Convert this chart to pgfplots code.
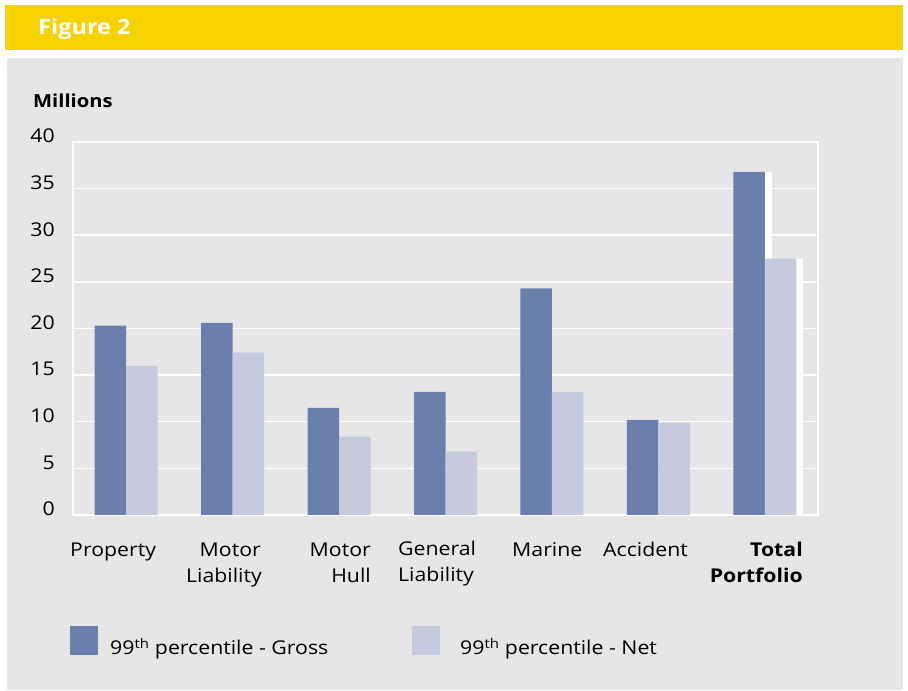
\documentclass[border=0pt]{standalone}
\usepackage{fontspec}
\setmainfont[FakeStretch=1.12]{Open Sans}
\usepackage{pgfplots}
\pgfplotsset{compat=1.18}
\definecolor{gross}{HTML}{6B7FAD}
\definecolor{net}{HTML}{C5CADD}
\definecolor{panel}{HTML}{E6E6E6}
\definecolor{yell}{HTML}{F5D200}
\begin{document}
\fontsize{19}{23}\selectfont
\begin{tikzpicture}
\path[use as bounding box] (0,0) rectangle (908pt,691pt);
\fill[white] (0,0) rectangle (908pt,691pt);
\fill[yell] (5pt,641pt) rectangle (903pt,686pt);
\fill[panel] (7pt,1pt) rectangle (903pt,633pt);
\node[anchor=west,text=white,inner sep=0pt,font=\fontsize{21}{25}\selectfont\bfseries] at (38pt,662pt) {Figure 2};
\node[anchor=base west,inner sep=0pt,font=\fontsize{18}{21}\selectfont\bfseries] at (33pt,583pt) {Millions};
\begin{axis}[at={(73pt,176pt)}, anchor=south west, scale only axis,
  width=745pt, height=373pt,
  xmin=-0.5, xmax=6.5, ymin=0, ymax=40,
  axis background/.style={fill=panel},
  axis line style={white, line width=1.5pt},
  ytick={0,5,...,40}, xtick=\empty,
  ymajorgrids, grid style={white, line width=1.5pt},
  major tick length=0pt,
  yticklabel style={font=\fontsize{19}{23}\selectfont, inner sep=0pt, anchor=east, xshift=-18pt, yshift=6pt,
    /pgf/number format/assume math mode=true},
  every axis plot/.append style={draw=none},
]
% white shadows behind Total Portfolio bars
\addplot[ybar, bar width=31.5pt, bar shift=-8.75pt, fill=white] coordinates {(6,36.8)};
\addplot[ybar, bar width=31.5pt, bar shift=22.75pt, fill=white] coordinates {(6,27.5)};
% 99th percentile - Gross
\addplot[ybar, bar width=31.5pt, bar shift=-15.75pt, fill=gross] coordinates {
(0,20.3) (1,20.6) (2,11.5) (3,13.2) (4,24.3) (5,10.2) (6,36.8)};
% 99th percentile - Net
\addplot[ybar, bar width=31.5pt, bar shift=15.75pt, fill=net] coordinates {
(0,16.0) (1,17.4) (2,8.4) (3,6.8) (4,13.2) (5,9.9) (6,27.5)};
\end{axis}
% category labels
\node[anchor=base west,inner sep=0pt] at (70pt,134pt) {Property};
\node[anchor=base east,inner sep=0pt] at (261pt,134pt) {Motor};
\node[anchor=base east,inner sep=0pt] at (262pt,108pt) {Liability};
\node[anchor=base east,inner sep=0pt] at (371pt,134pt) {Motor};
\node[anchor=base east,inner sep=0pt] at (371pt,108pt) {Hull};
\node[anchor=base west,inner sep=0pt] at (398pt,135pt) {General};
\node[anchor=base west,inner sep=0pt] at (398pt,109pt) {Liability};
\node[anchor=base west,inner sep=0pt] at (512pt,134pt) {Marine};
\node[anchor=base west,inner sep=0pt] at (603pt,134pt) {Accident};
\node[anchor=base east,inner sep=0pt,font=\bfseries] at (803pt,134pt) {Total};
\node[anchor=base east,inner sep=0pt,font=\bfseries] at (803pt,108pt) {Portfolio};
% legend
\fill[gross] (70pt,36pt) rectangle (98pt,65pt);
\node[anchor=base west,inner sep=0pt] at (110pt,36pt) {99\textsuperscript{th} percentile - Gross};
\fill[net] (412pt,36pt) rectangle (440pt,65pt);
\node[anchor=base west,inner sep=0pt] at (460pt,36pt) {99\textsuperscript{th} percentile - Net};
\end{tikzpicture}
\end{document}
